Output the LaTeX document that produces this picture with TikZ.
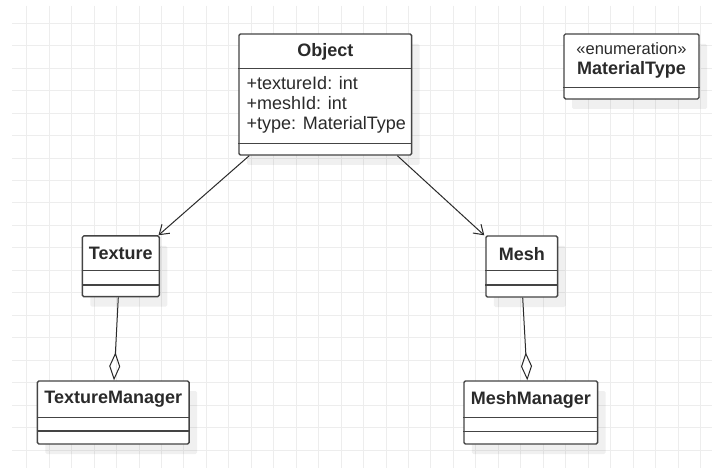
\documentclass[tikz,border=0pt]{standalone}
\usepackage{fontspec}
\setmainfont{Liberation Sans}
\usetikzlibrary{arrows.meta,shadows}
\definecolor{gridgray}{HTML}{EDEDED}
\definecolor{ink}{HTML}{2A2A2A}
\definecolor{frame}{HTML}{444444}
\begin{document}
\begin{tikzpicture}[x=1bp,y=-1bp,
  gridline/.style={draw=gridgray, line width=1bp},
  classbox/.style={draw=frame, line width=1.4bp, rounded corners=1.5bp, fill=white,
    inner sep=0pt,
    drop shadow={shadow xshift=8bp, shadow yshift=-10bp, fill=black, opacity=0.06}},
  sep/.style={draw=frame, line width=1.4bp},
  title/.style={font=\fontsize{18bp}{21bp}\selectfont\bfseries, text=ink, inner sep=0pt},
  stereo/.style={font=\fontsize{16.5bp}{19bp}\selectfont, text=ink, inner sep=0pt},
  attr/.style={font=\fontsize{18bp}{20.4bp}\selectfont, text=ink, inner sep=0pt, align=left},
  assoc/.style={draw=ink, line width=1bp, -{Straight Barb[length=9bp,width=12bp]}},
  aggr/.style={draw=ink, line width=1bp, -{Diamond[open,length=28bp,width=11bp]}}]

\useasboundingbox (0,0) rectangle (712,468);
\fill[white] (0,0) rectangle (712,468);

% background grid
\foreach \i in {0,...,30}
  \draw[gridline] ({26.7+22.46*\i},6) -- ({26.7+22.46*\i},468);
\foreach \j in {0,...,19}
  \draw[gridline] (12,{23.3+22.46*\j}) -- (712,{23.3+22.46*\j});

% Object
\node[classbox, minimum width=172.7bp, minimum height=121bp] (obj) at (325.3,94.5) {};
\node[title] (objname) at (obj.north |- 0,51.5) {Object};
\draw[sep] (obj.west |- 0,68.3) -- (obj.east |- 0,68.3);
\node[attr, anchor=west] (objattrs) at (246.5,104.8)
  {+textureId: int\\+meshId: int\\+type: MaterialType};
\draw[sep] (obj.west |- 0,143.3) -- (obj.east |- 0,143.3);

% MaterialType enumeration
\node[classbox, minimum width=135bp, minimum height=65bp] (mat) at (631.5,66.5) {};
\node[stereo] (matstereo) at (mat.north |- 0,49) {«enumeration»};
\node[title] (matname) at (mat.north |- 0,70) {MaterialType};
\draw[sep] (mat.west |- 0,87.3) -- (mat.east |- 0,87.3);

% Texture
\node[classbox, minimum width=77bp, minimum height=60.7bp] (tex) at (120.8,266.3) {};
\node[title] (texname) at (tex.north |- 0,253.8) {Texture};
\draw[sep] (tex.west |- 0,270.7) -- (tex.east |- 0,270.7);
\draw[sep] (tex.west |- 0,285) -- (tex.east |- 0,285);

% Mesh
\node[classbox, minimum width=71.7bp, minimum height=61bp] (mesh) at (521.8,266.5) {};
\node[title] (meshname) at (mesh.north |- 0,253.8) {Mesh};
\draw[sep] (mesh.west |- 0,270.7) -- (mesh.east |- 0,270.7);
\draw[sep] (mesh.west |- 0,285) -- (mesh.east |- 0,285);

% TextureManager
\node[classbox, minimum width=151.7bp, minimum height=63bp] (tm) at (113.2,412.5) {};
\node[title] (tmname) at (tm.north |- 0,399.5) {TextureManager};
\draw[sep] (tm.west |- 0,417.3) -- (tm.east |- 0,417.3);
\draw[sep] (tm.west |- 0,431) -- (tm.east |- 0,431);

% MeshManager
\node[classbox, minimum width=133.7bp, minimum height=63bp] (mm) at (530.8,412.5) {};
\node[title] (mmname) at (mm.north |- 0,399.5) {MeshManager};
\draw[sep] (mm.west |- 0,417.3) -- (mm.east |- 0,417.3);
\draw[sep] (mm.west |- 0,431.3) -- (mm.east |- 0,431.3);

% associations
\draw[assoc] ([xshift=11bp]obj.south west) -- ([xshift=-1.5bp]tex.north east);
\draw[assoc] ([xshift=-15bp]obj.south east) -- ([xshift=-1bp]mesh.north west);

% aggregations
\draw[aggr] ([xshift=-2.5bp]tex.south) -- ([xshift=0.8bp]tm.north);
\draw[aggr] ([xshift=0.9bp]mesh.south) -- ([xshift=-3.5bp]mm.north);
\end{tikzpicture}
\end{document}
